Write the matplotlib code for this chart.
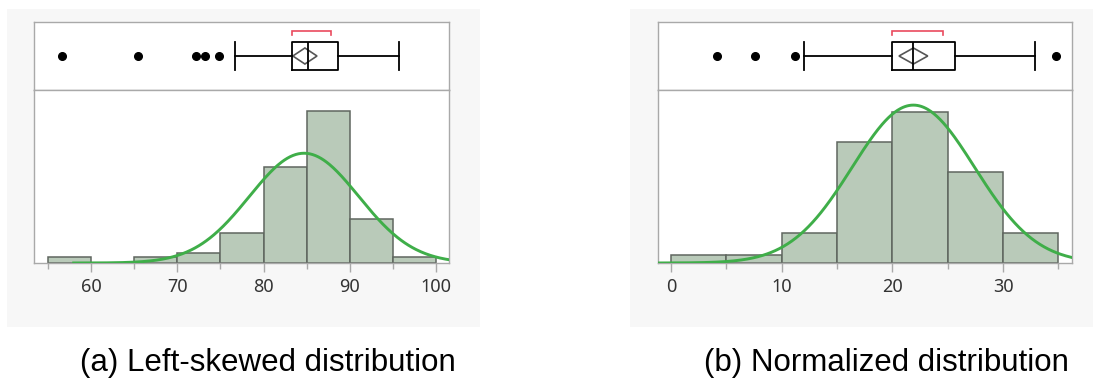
import numpy as np
import matplotlib
matplotlib.use("Agg")
import matplotlib.pyplot as plt
from matplotlib.patches import Rectangle, Polygon

W, H, DPI = 1093, 379, 100

# ---------------- data: panel (a) ----------------
a_bin_edges = [55, 60, 65, 70, 75, 80, 85, 90, 95, 100]
a_counts = [1.2, 0, 1.2, 2.0, 6.0, 19.0, 30.0, 8.6, 1.2]
a_outliers = [56.6, 65.4, 72.2, 73.2, 74.8]
a_whislo, a_q1, a_med, a_q3, a_whishi = 76.7, 83.3, 85.15, 88.6, 95.7
a_mean, a_ci_lo, a_ci_hi = 84.8, 83.4, 86.2
a_short_lo, a_short_hi = 83.3, 87.8
a_fit_mean, a_fit_sd, a_fit_peak, a_fit_start = 84.7, 6.34, 21.7, 58.0
a_major = [60, 70, 80, 90, 100]
a_minor = [55, 65, 75, 85, 95]
a_xlim = (53.4, 101.5)
a_ytop = 34.2
a_caption = "(a) Left-skewed distribution"

# ---------------- data: panel (b) ----------------
b_bin_edges = [0, 5, 10, 15, 20, 25, 30, 35]
b_counts = [1, 1, 4, 16, 20, 12, 4]
b_outliers = [4.2, 7.6, 11.2, 34.8]
b_whislo, b_q1, b_med, b_q3, b_whishi = 12.0, 20.0, 21.9, 25.7, 32.9
b_mean, b_ci_lo, b_ci_hi = 21.9, 20.6, 23.2
b_short_lo, b_short_hi = 20.0, 24.6
b_fit_mean, b_fit_sd, b_fit_peak, b_fit_start = 21.9, 5.53, 20.9, -1.17
b_major = [0, 10, 20, 30]
b_minor = [5, 15, 25, 35]
b_xlim = (-1.17, 36.23)
b_ytop = 22.9
b_caption = "(b) Normalized distribution"

# ---------------- style ----------------
BG = "#f7f7f7"
FRAME = "#a9a9a9"
BAR_FILL = "#b9cab9"
BAR_EDGE = "#5f665f"
CURVE = "#3fae49"
RED = "#ea4a5e"
TICKFONT = "Noto Sans"

fig = plt.figure(figsize=(W / DPI, H / DPI), dpi=DPI)
fig.patch.set_facecolor("white")


def add_ax(x0, y0, x1, y1):
    return fig.add_axes([x0 / W, 1 - y1 / H, (x1 - x0) / W, (y1 - y0) / H])


def bg(x0, y0, x1, y1):
    fig.patches.append(Rectangle((x0 / W, 1 - y1 / H), (x1 - x0) / W, (y1 - y0) / H,
                                 transform=fig.transFigure, facecolor=BG,
                                 edgecolor="none", zorder=-10))


def style_frame(ax):
    for s in ax.spines.values():
        s.set_color(FRAME)
        s.set_linewidth(1.0)


def panel(px0, px1, edges, counts, outliers, whislo, q1, med, q3, whishi,
          mean, ci_lo, ci_hi, sh_lo, sh_hi, fmean, fsd, fpeak, fstart,
          major, minor, xlim, ytop):
    # box plot axis
    axb = add_ax(px0, 22, px1, 90)
    axb.set_xlim(*xlim)
    axb.set_ylim(0, 1)
    axb.set_xticks([])
    axb.set_yticks([])
    style_frame(axb)
    stats = [dict(med=med, q1=q1, q3=q3, whislo=whislo, whishi=whishi,
                  fliers=outliers)]
    axb.bxp(stats, positions=[0.5], widths=0.41, orientation="horizontal",
            capwidths=0.41, manage_ticks=False,
            boxprops=dict(color="black", linewidth=1.3),
            medianprops=dict(color="black", linewidth=1.3),
            whiskerprops=dict(color="black", linewidth=1.3),
            capprops=dict(color="black", linewidth=1.3),
            flierprops=dict(marker="o", markerfacecolor="black",
                            markeredgecolor="black", markersize=5.5))
    dh = 0.118
    axb.add_patch(Polygon([(ci_lo, 0.5), (mean, 0.5 + dh), (ci_hi, 0.5), (mean, 0.5 - dh)],
                          closed=True, fill=False, edgecolor="#555555", linewidth=1.2))
    axb.plot([sh_lo, sh_lo, sh_hi, sh_hi], [0.81, 0.868, 0.868, 0.81],
             color=RED, linewidth=1.2, solid_joinstyle="miter")

    # histogram axis
    axh = add_ax(px0, 90, px1, 263)
    axh.set_xlim(*xlim)
    axh.set_ylim(0, ytop)
    style_frame(axh)
    lefts = [e for e, c in zip(edges[:-1], counts) if c > 0]
    hts = [c for c in counts if c > 0]
    widths = [edges[i + 1] - edges[i] for i, c in enumerate(counts) if c > 0]
    axh.bar(lefts, hts, width=widths, align="edge", color=BAR_FILL,
            edgecolor=BAR_EDGE, linewidth=1.1, zorder=2)
    xs = np.linspace(fstart, xlim[1], 400)
    ys = fpeak * np.exp(-0.5 * ((xs - fmean) / fsd) ** 2)
    axh.plot(xs, ys, color=CURVE, linewidth=2.1, zorder=3)
    axh.set_yticks([])
    axh.set_xticks(major)
    axh.set_xticks(minor, minor=True)
    axh.set_xticklabels([str(v) for v in major], fontfamily=TICKFONT)
    axh.tick_params(axis="x", which="major", direction="out", length=6.5, width=1,
                    color=FRAME, labelsize=13, labelcolor="#333333", pad=4.5)
    axh.tick_params(axis="x", which="minor", direction="out", length=4.3, width=1,
                    color=FRAME)
    return axb, axh


bg(7, 9, 480, 327)
bg(630, 9, 1093, 327)

panel(34, 449, a_bin_edges, a_counts, a_outliers, a_whislo, a_q1, a_med, a_q3,
      a_whishi, a_mean, a_ci_lo, a_ci_hi, a_short_lo, a_short_hi,
      a_fit_mean, a_fit_sd, a_fit_peak, a_fit_start, a_major, a_minor, a_xlim, a_ytop)
panel(658, 1072, b_bin_edges, b_counts, b_outliers, b_whislo, b_q1, b_med, b_q3,
      b_whishi, b_mean, b_ci_lo, b_ci_hi, b_short_lo, b_short_hi,
      b_fit_mean, b_fit_sd, b_fit_peak, b_fit_start, b_major, b_minor, b_xlim, b_ytop)

fig.text(268 / W, 1 - 371 / H, a_caption, ha="center", va="baseline",
         fontsize=22.5, fontfamily="Liberation Sans", color="black")
fig.text(886 / W, 1 - 371 / H, b_caption, ha="center", va="baseline",
         fontsize=22.5, fontfamily="Liberation Sans", color="black")

fig.savefig("out.png", dpi=DPI, facecolor="white")
